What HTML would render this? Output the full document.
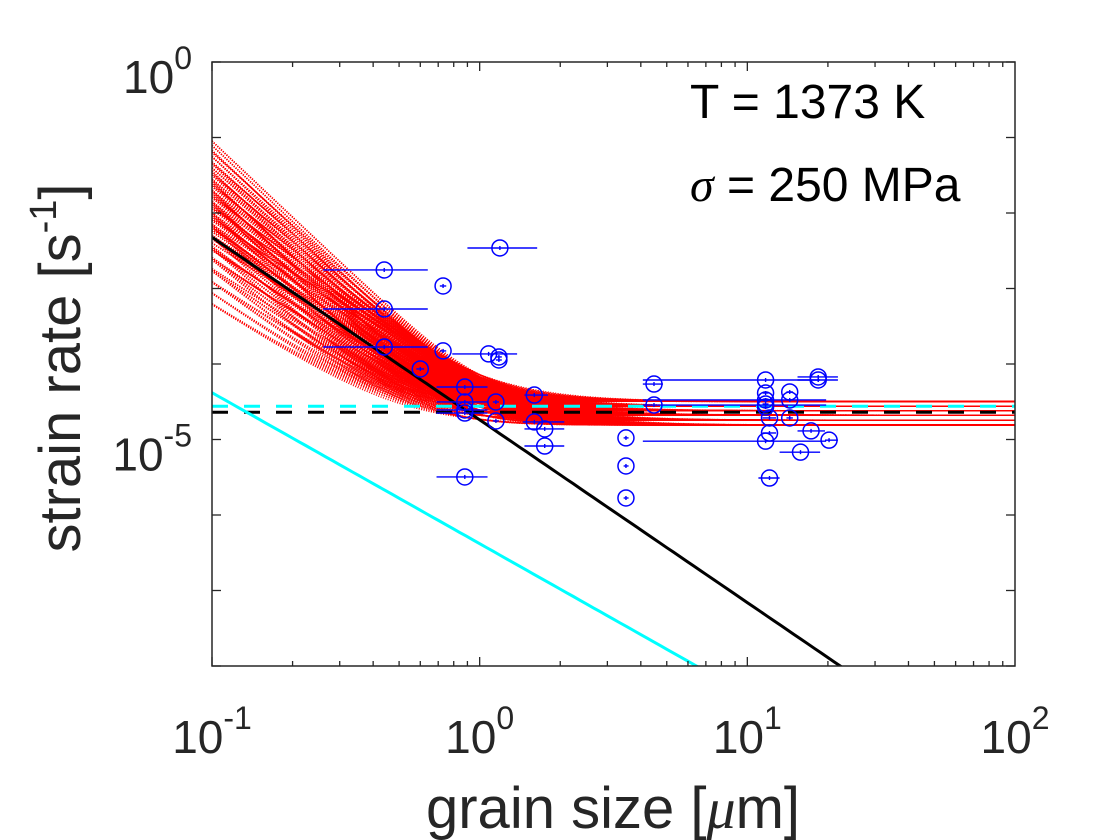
<!DOCTYPE html>
<html><head><meta charset="utf-8"><style>
html,body{margin:0;padding:0;background:#fff;}
svg{display:block;font-family:"Liberation Sans",sans-serif;}
</style></head><body>
<svg id="chart" width="1120" height="840" viewBox="0 0 1120 840">
<defs><clipPath id="clip"><rect x="212" y="62" width="803" height="604"/></clipPath></defs>
<rect x="212" y="62" width="803" height="604" fill="#fff"/>
<g id="marks" clip-path="url(#clip)"></g>
<g id="axes"></g>
<text x="690" y="118" font-size="48" fill="#000">T = 1373 K</text>
<text x="690" y="201" font-size="48" fill="#000"><tspan font-family="Liberation Serif" font-style="italic">σ</tspan> = 250 MPa</text>
<text x="613" y="828" font-size="58" text-anchor="middle" fill="#262626">grain size [<tspan font-family="Liberation Serif" font-style="italic">μ</tspan>m]</text>
<text transform="translate(80,368) rotate(-90)" font-size="58" text-anchor="middle" fill="#262626">strain rate [s<tspan font-size="38" dy="-24">-1</tspan><tspan dy="24">]</tspan></text>
</svg>
<script>
const xTicks=[-1,0,1,2];
const yTickLabels=[0,-5];
const bandAmp=[0.3e-5,0.6e-5,0.9e-5,1.2e-5,1.6e-5,2.0e-5,2.5e-5,3.0e-5,3.5e-5,4.0e-5];
const bandExp=[2.3,2.45,2.6,2.75,2.9,3.05,3.2,3.35];
const bandBase=[1.55e-5,1.8e-5,2.1e-5,2.4e-5,2.75e-5,3.2e-5];
const blackLine={a:10**-4.74,p:2.42};
const cyanLine={a:10**-6.38,p:2.0};
const blackDash=2.3e-5;
const cyanDash=2.75e-5;
const ptX=[0.44,0.73,1.19,0.44,0.44,0.73,1.08,1.18,1.18,0.60,0.88,0.88,0.88,0.88,1.15,1.60,1.15,1.60,1.75,1.75,0.88,4.48,4.48,3.52,3.52,3.52,11.7,11.7,11.7,11.7,11.7,11.7,14.4,14.4,14.4,18.4,18.4,17.3,20.2,15.8,12.1,12.1,12.1];
const ptLo=[0.26,0.71,0.90,0.26,0.26,0.71,0.79,1.15,1.15,0.58,0.69,0.69,0.69,0.69,1.12,1.47,1.12,1.45,1.47,1.47,0.69,4.07,4.07,3.45,3.45,3.45,4.07,11.4,4.07,11.4,11.4,4.07,14.0,14.0,14.0,15.4,15.4,15.4,19.5,13.2,11.0,11.4,11.4];
const ptHi=[0.64,0.75,1.64,0.64,0.64,0.75,1.38,1.21,1.21,0.62,1.07,1.07,1.07,1.07,1.18,1.80,1.18,2.07,2.07,2.07,1.07,4.84,19.7,3.6,3.6,3.6,18.7,12.0,19.7,12.0,12.0,19.7,14.8,14.8,14.8,21.8,21.8,19.5,21.8,18.7,13.2,12.8,12.8];
const ptY=[1.76e-3,1.08e-3,3.44e-3,5.35e-4,1.68e-4,1.49e-4,1.36e-4,1.24e-4,1.13e-4,8.6e-5,4.96e-5,3.14e-5,2.46e-5,2.24e-5,3.14e-5,3.88e-5,1.76e-5,1.71e-5,1.38e-5,8.2e-6,3.19e-6,5.43e-5,2.86e-5,1.05e-5,4.46e-6,1.68e-6,6.14e-5,4.13e-5,3.34e-5,2.95e-5,2.69e-5,9.5e-6,4.26e-5,3.34e-5,1.93e-5,6.73e-5,6.14e-5,1.30e-5,9.8e-6,6.8e-6,3.09e-6,1.93e-5,1.22e-5];

const L=212,R=1015,T=62,B=666;
const X=v=>L+(Math.log10(v)+1)*(R-L)/3;
const Y=v=>T-Math.log10(v)*(B-T)/8;
const NS='http://www.w3.org/2000/svg';
const marks=document.getElementById('marks'),axes=document.getElementById('axes');
function mk(tag,attrs,parent){const e=document.createElementNS(NS,tag);for(const k in attrs)e.setAttribute(k,attrs[k]);parent.appendChild(e);return e;}
const xs=[];for(let i=0;i<=120;i++)xs.push(10**(-1+i*3/120));
bandBase.forEach(b=>bandAmp.forEach(a=>bandExp.forEach(p=>{
  const d=xs.map(x=>X(x).toFixed(1)+','+Y(a*x**-p+b).toFixed(1)).join(' ');
  const e=mk('polyline',{points:d,fill:'none',stroke:'#ff0000','stroke-width':1.5,'stroke-dasharray':'1 1.5'},marks);
  
  
})));
function line(f,color,name,dash){
  const d=xs.map(x=>X(x).toFixed(1)+','+Y(f(x)).toFixed(1)).join(' ');
  const e=mk('polyline',{points:d,fill:'none',stroke:color,'stroke-width':3},marks);
  if(dash)e.setAttribute('stroke-dasharray',dash);
  
  
}
line(x=>cyanDash,'#00ffff','cyan-dashed-line','16 16');
line(x=>blackDash,'#000','black-dashed-line','16 16');
line(x=>blackLine.a*x**-blackLine.p,'#000','black-power-law-line');
line(x=>cyanLine.a*x**-cyanLine.p,'#00ffff','cyan-power-law-line');
ptX.forEach((x,i)=>{
  const g=mk('g',{},marks);
  
  
  const y=Y(ptY[i]);
  mk('line',{x1:X(ptLo[i]),x2:X(ptHi[i]),y1:y,y2:y,stroke:'#0000ff','stroke-width':1.4},g);
  mk('line',{x1:X(x),x2:X(x),y1:y-2,y2:y+2,stroke:'#0000ff','stroke-width':1.4},g);
  mk('circle',{cx:X(x),cy:y,r:8,fill:'none',stroke:'#0000ff','stroke-width':1.5},g);
});
const fr=mk('rect',{x:L,y:T,width:R-L,height:B-T,fill:'none',stroke:'#262626','stroke-width':1.5},axes);

for(let dec=-1;dec<2;dec++)for(let m=1;m<10;m++){
  const v=m*10**dec;const px=X(v);const len=m===1?9:5;
  mk('line',{x1:px,x2:px,y1:B,y2:B-len,stroke:'#262626','stroke-width':1.3},axes);
  mk('line',{x1:px,x2:px,y1:T,y2:T+len,stroke:'#262626','stroke-width':1.3},axes);
}
for(let e=0;e>=-8;e--){const py=Y(10**e);
  mk('line',{x1:L,x2:L+9,y1:py,y2:py,stroke:'#262626','stroke-width':1.3},axes);
  mk('line',{x1:R,x2:R-9,y1:py,y2:py,stroke:'#262626','stroke-width':1.3},axes);}
xTicks.forEach(e=>{
  const t=mk('text',{x:X(10**e),y:753,'font-size':46,'text-anchor':'middle',fill:'#262626'},axes);
  
  const a=mk('tspan',{},t);a.textContent='10';const s=mk('tspan',{dy:-24,'font-size':32},t);s.textContent=String(e);
});
yTickLabels.forEach(e=>{
  const t=mk('text',{x:192,y:Y(10**e)+31,'font-size':46,'text-anchor':'end',fill:'#262626'},axes);
  
  const a=mk('tspan',{},t);a.textContent='10';const s=mk('tspan',{dy:-24,'font-size':32},t);s.textContent=String(e);
});
</script>
</body></html>
